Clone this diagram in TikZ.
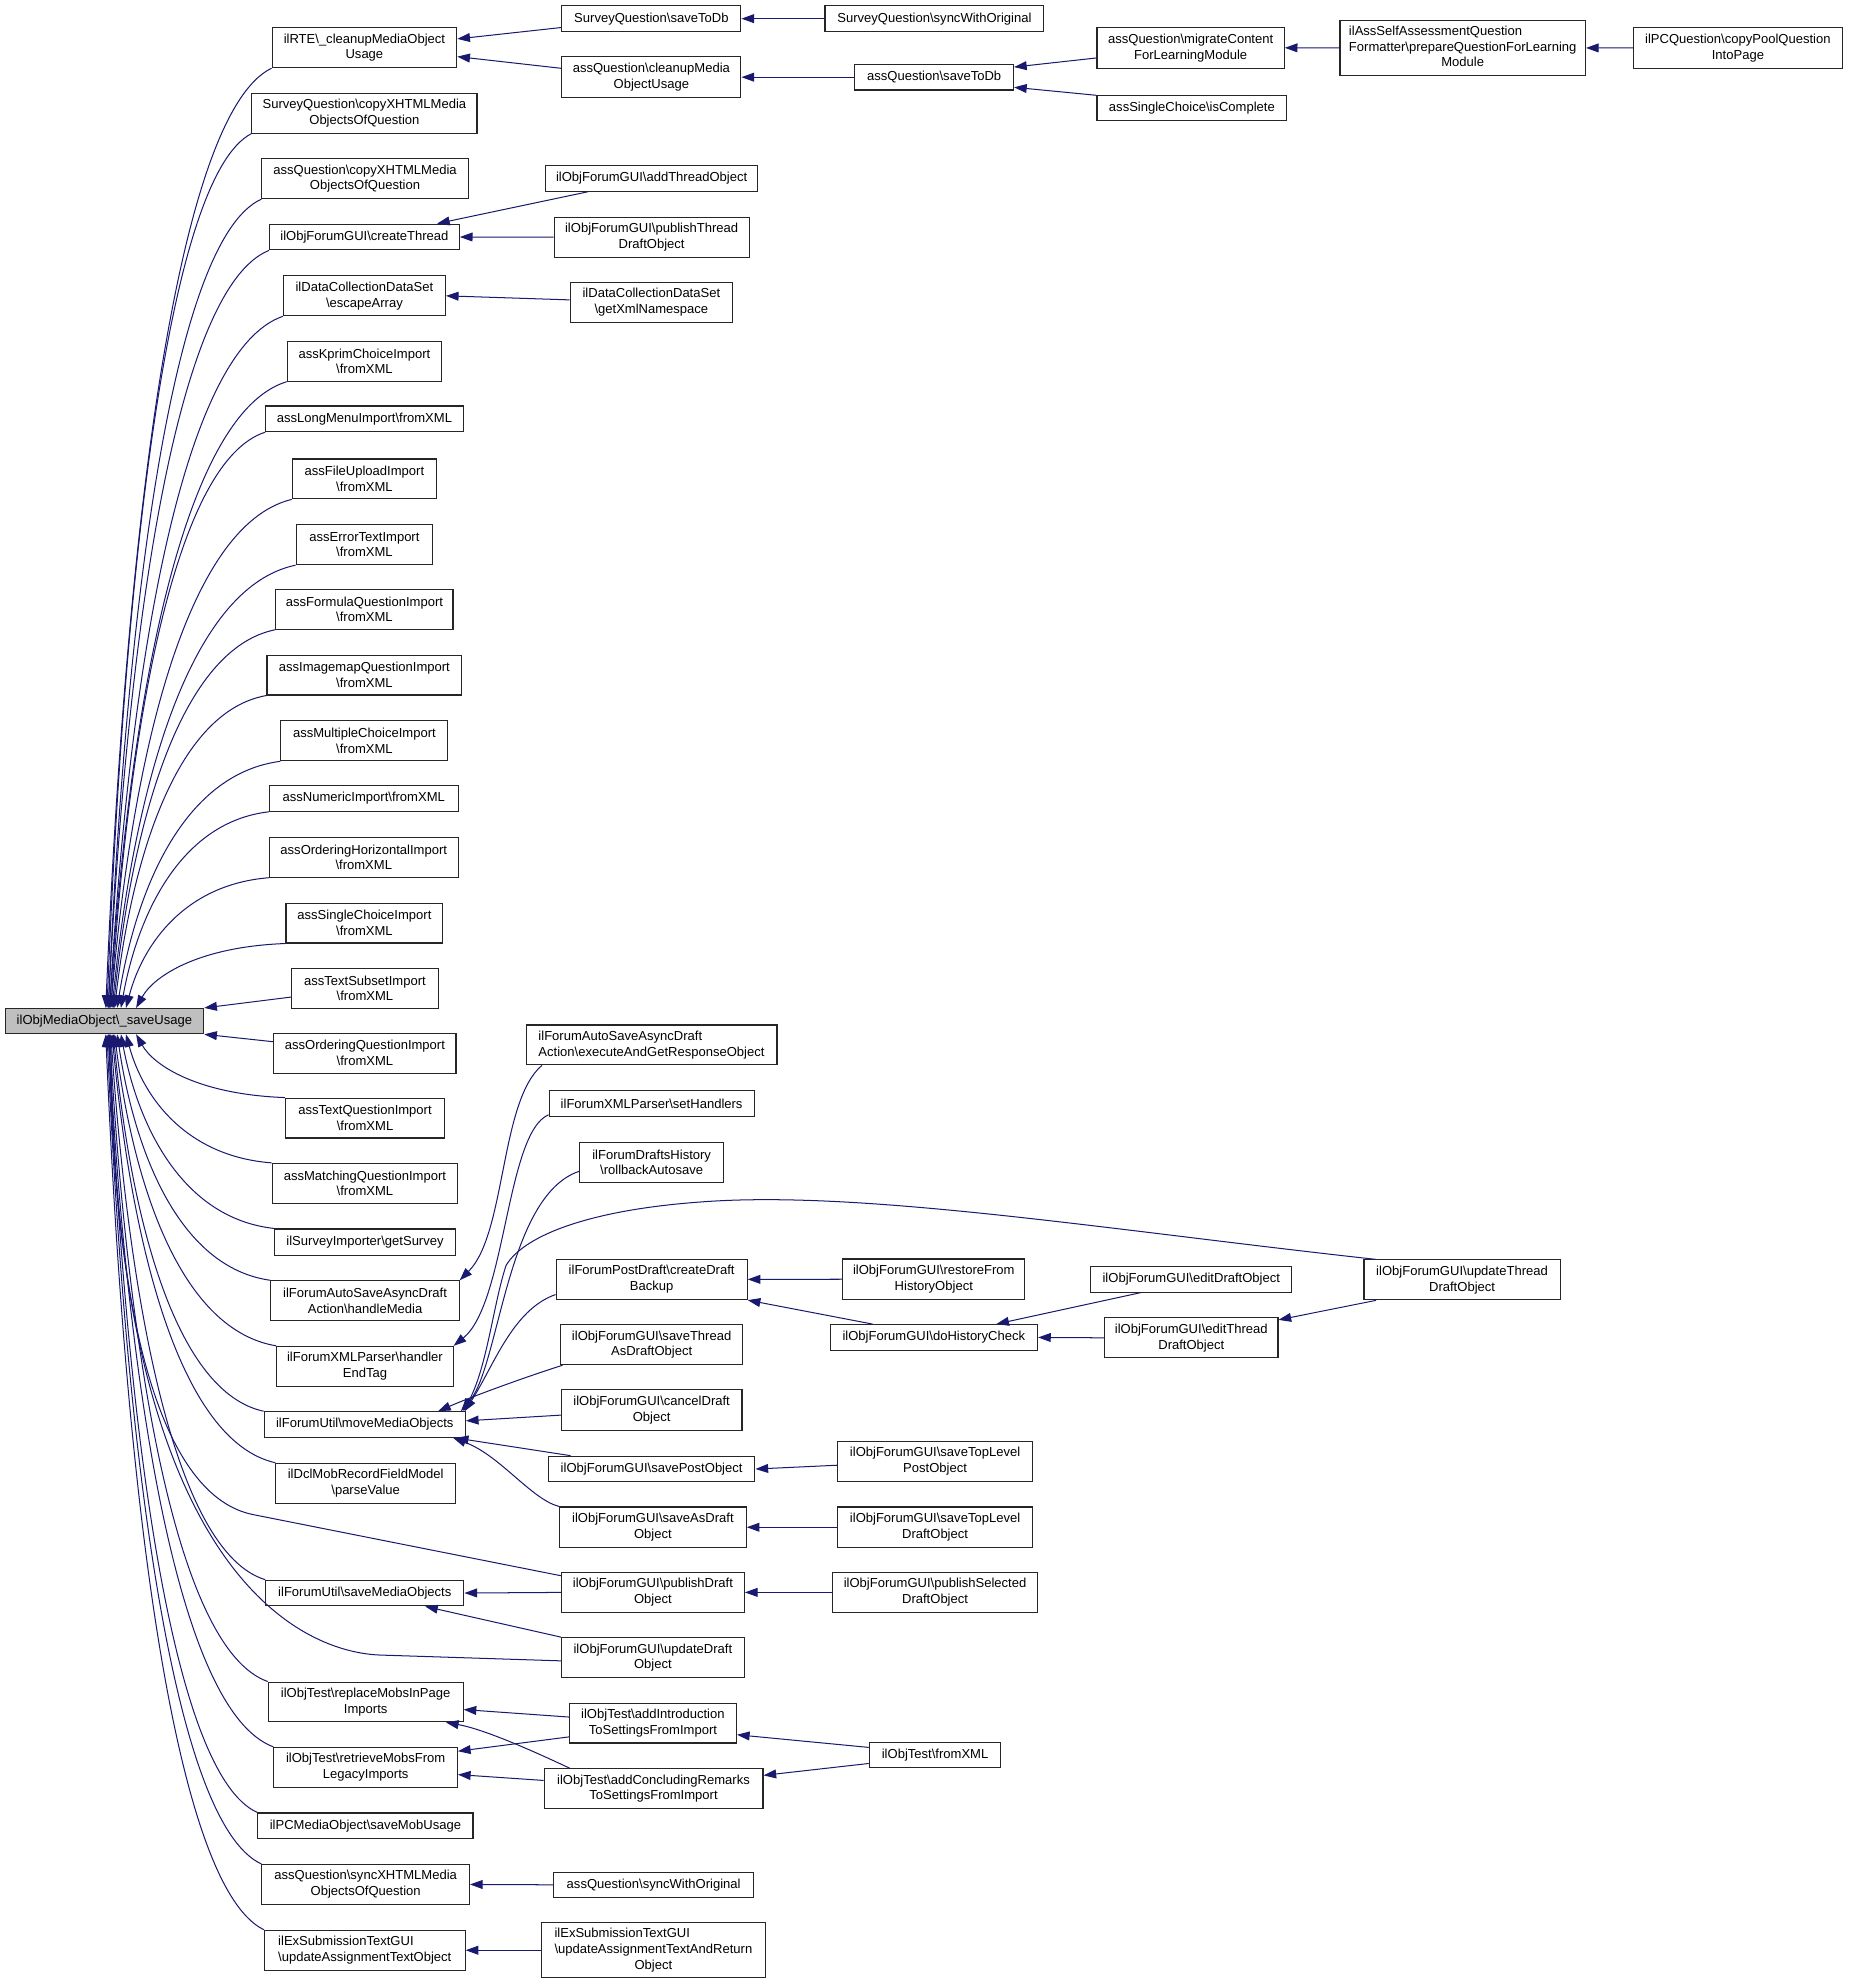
\documentclass[tikz,border=0pt]{standalone}
\usepackage{fontspec}
\setmainfont{Liberation Sans}
\usetikzlibrary{arrows.meta,calc}
\definecolor{edgecol}{RGB}{25,25,112}
\definecolor{rootfill}{RGB}{191,191,191}
\newcommand\bsl{\textbackslash}
\newcommand\rootedge[3]{\draw[dep] let \p1=(#1), \p2=([xshift=#3]#2) in (\p1) .. controls ({\x2+0.42*(\x1-\x2)},{\y1+0.05*(\y2-\y1)}) and ({\x2+0.12*(\x1-\x2)},{\y2+0.5*(\y1-\y2)}) .. (\p2);}
\begin{document}
\begin{tikzpicture}[x=1pt,y=-1pt,
  basebox/.style={draw=black!85, line width=0.85pt, fill=white, inner sep=0pt, font=\fontsize{10.3}{12.4}\selectfont},
  box/.style={basebox, align=center},
  lbox/.style={basebox, align=left},
  dep/.style={draw=edgecol, line width=0.8pt, -{Triangle[length=10pt,width=7pt]}}]
\fill[white] (0,0) rectangle (1461,1568);
\useasboundingbox (0,0) rectangle (1461,1568);

% root
\node[box, fill=rootfill, minimum width=157, minimum height=20] (root) at (82.5,807) {ilObjMediaObject\bsl\_saveUsage};

% column 1
\node[box, minimum width=146, minimum height=31.5] (n1) at (288,37.75) {ilRTE\bsl\_cleanupMediaObject\\Usage};
\node[box, minimum width=178, minimum height=31.5] (n2) at (288,89.5) {SurveyQuestion\bsl copyXHTMLMedia\\ObjectsOfQuestion};
\node[box, minimum width=163, minimum height=31.5] (n3) at (288.5,141.2) {assQuestion\bsl copyXHTMLMedia\\ObjectsOfQuestion};
\node[box, minimum width=150, minimum height=20.3] (n4) at (288,187.3) {ilObjForumGUI\bsl createThread};
\node[box, minimum width=128, minimum height=31.5] (n5) at (288,233.8) {ilDataCollectionDataSet\\\bsl escapeArray};
\node[box, minimum width=122, minimum height=31.5] (n6) at (288,285.5) {assKprimChoiceImport\\\bsl fromXML};
\node[box, minimum width=156, minimum height=20.3] (n7) at (288,331) {assLongMenuImport\bsl fromXML};
\node[box, minimum width=114, minimum height=31.5] (n8) at (288,378.5) {assFileUploadImport\\\bsl fromXML};
\node[box, minimum width=108, minimum height=31.5] (n9) at (288,430.5) {assErrorTextImport\\\bsl fromXML};
\node[box, minimum width=140, minimum height=31.5] (n10) at (288,481.5) {assFormulaQuestionImport\\\bsl fromXML};
\node[box, minimum width=154, minimum height=31.5] (n11) at (288,533.5) {assImagemapQuestionImport\\\bsl fromXML};
\node[box, minimum width=132, minimum height=31.5] (n12) at (288,585.5) {assMultipleChoiceImport\\\bsl fromXML};
\node[box, minimum width=149, minimum height=20.3] (n13) at (287.5,631) {assNumericImport\bsl fromXML};
\node[box, minimum width=149, minimum height=31.5] (n14) at (287.5,677.5) {assOrderingHorizontalImport\\\bsl fromXML};
\node[box, minimum width=124, minimum height=31.5] (n15) at (288,729.5) {assSingleChoiceImport\\\bsl fromXML};
\node[box, minimum width=116, minimum height=31.5] (n16) at (288.4,781) {assTextSubsetImport\\\bsl fromXML};
\node[box, minimum width=144, minimum height=31.5] (n17) at (288.4,832.3) {assOrderingQuestionImport\\\bsl fromXML};
\node[box, minimum width=126, minimum height=31.5] (n18) at (288.5,883.6) {assTextQuestionImport\\\bsl fromXML};
\node[box, minimum width=146.7, minimum height=31.5] (n19) at (288.4,935.2) {assMatchingQuestionImport\\\bsl fromXML};
\node[box, minimum width=142.7, minimum height=20.6] (n20) at (288.5,981.6) {ilSurveyImporter\bsl getSurvey};
\node[box, minimum width=148.8, minimum height=31.5] (n21) at (288.5,1028) {ilForumAutoSaveAsyncDraft\\Action\bsl handleMedia};
\node[box, minimum width=139.4, minimum height=31.5] (n22) at (288.4,1079.8) {ilForumXMLParser\bsl handler\\EndTag};
\node[box, minimum width=159, minimum height=20.3] (n23) at (288.3,1125.9) {ilForumUtil\bsl moveMediaObjects};
\node[box, minimum width=142, minimum height=31.5] (n24) at (289,1172.2) {ilDclMobRecordFieldModel\\\bsl parseValue};
\node[box, minimum width=156.6, minimum height=20.3] (n25) at (288.3,1259) {ilForumUtil\bsl saveMediaObjects};
\node[box, minimum width=154, minimum height=31.5] (n26) at (289,1345.1) {ilObjTest\bsl replaceMobsInPage\\Imports};
\node[box, minimum width=145, minimum height=31.5] (n27) at (289,1396.75) {ilObjTest\bsl retrieveMobsFrom\\LegacyImports};
\node[box, minimum width=170, minimum height=20.3] (n28) at (288.8,1443) {ilPCMediaObject\bsl saveMobUsage};
\node[box, minimum width=164, minimum height=31.5] (n29) at (289,1489.3) {assQuestion\bsl syncXHTMLMedia\\ObjectsOfQuestion};
\node[lbox, minimum width=158.6, minimum height=31.5] (n30) at (288.3,1541.3) {ilExSubmissionTextGUI\\\bsl updateAssignmentTextObject};

% column 2
\node[box, minimum width=141.5, minimum height=20.5] (m1) at (514.8,14.75) {SurveyQuestion\bsl saveToDb};
\node[box, minimum width=141.5, minimum height=32] (m2) at (514.8,61) {assQuestion\bsl cleanupMedia\\ObjectUsage};
\node[box, minimum width=168, minimum height=20.3] (m3) at (515,141) {ilObjForumGUI\bsl addThreadObject};
\node[box, minimum width=154, minimum height=31.5] (m4) at (515,187.4) {ilObjForumGUI\bsl publishThread\\DraftObject};
\node[box, minimum width=128.4, minimum height=32] (m5) at (514.8,239) {ilDataCollectionDataSet\\\bsl getXmlNamespace};
\node[lbox, minimum width=198.3, minimum height=31.5] (m6) at (514.9,825.8) {ilForumAutoSaveAsyncDraft\\Action\bsl executeAndGetResponseObject};
\node[box, minimum width=162, minimum height=20.5] (m7) at (515,872) {ilForumXMLParser\bsl setHandlers};
\node[box, minimum width=113.7, minimum height=31.6] (m8) at (515,918.7) {ilForumDraftsHistory\\\bsl rollbackAutosave};
\node[box, minimum width=151, minimum height=32] (m9) at (515,1011.1) {ilForumPostDraft\bsl createDraft\\Backup};
\node[box, minimum width=144, minimum height=31.5] (m10) at (515,1062.8) {ilObjForumGUI\bsl saveThread\\AsDraftObject};
\node[box, minimum width=142.8, minimum height=31.8] (m11) at (515,1114.4) {ilObjForumGUI\bsl cancelDraft\\Object};
\node[box, minimum width=163.3, minimum height=20.3] (m12) at (515,1161) {ilObjForumGUI\bsl savePostObject};
\node[box, minimum width=147.5, minimum height=32] (m13) at (516,1207) {ilObjForumGUI\bsl saveAsDraft\\Object};
\node[box, minimum width=144.6, minimum height=31.5] (m14) at (516,1258.5) {ilObjForumGUI\bsl publishDraft\\Object};
\node[box, minimum width=144.6, minimum height=31.5] (m15) at (516,1310) {ilObjForumGUI\bsl updateDraft\\Object};
\node[box, minimum width=132, minimum height=31] (m16) at (516,1362) {ilObjTest\bsl addIntroduction\\ToSettingsFromImport};
\node[box, minimum width=173, minimum height=31.2] (m17) at (516.5,1413.6) {ilObjTest\bsl addConcludingRemarks\\ToSettingsFromImport};
\node[box, minimum width=157.8, minimum height=20] (m18) at (516.6,1489.6) {assQuestion\bsl syncWithOriginal};
\node[basebox, minimum width=176.8, minimum height=43.4] (m19) at (516.4,1541.3) {\begin{tabular}{@{}c@{}}\multicolumn{1}{@{}l@{}}{ilExSubmissionTextGUI}\\\bsl updateAssignmentTextAndReturn\\Object\end{tabular}};

% column 3
\node[box, minimum width=173, minimum height=20.5] (k1) at (738.5,14.75) {SurveyQuestion\bsl syncWithOriginal};
\node[box, minimum width=125.4, minimum height=20.3] (k2) at (738.3,61) {assQuestion\bsl saveToDb};
\node[box, minimum width=144, minimum height=32] (k3) at (738,1011) {ilObjForumGUI\bsl restoreFrom\\HistoryObject};
\node[box, minimum width=164, minimum height=20.3] (k4) at (738,1057) {ilObjForumGUI\bsl doHistoryCheck};
\node[box, minimum width=154.5, minimum height=32] (k5) at (739,1155) {ilObjForumGUI\bsl saveTopLevel\\PostObject};
\node[box, minimum width=154.5, minimum height=32] (k6) at (739,1207) {ilObjForumGUI\bsl saveTopLevel\\DraftObject};
\node[box, minimum width=162.5, minimum height=31.5] (k7) at (739,1258.5) {ilObjForumGUI\bsl publishSelected\\DraftObject};
\node[box, minimum width=104, minimum height=20.3] (k8) at (739,1387) {ilObjTest\bsl fromXML};

% column 4
\node[box, minimum width=148, minimum height=32.4] (j1) at (941,37.8) {assQuestion\bsl migrateContent\\ForLearningModule};
\node[box, minimum width=150, minimum height=19.5] (j2) at (942,85.5) {assSingleChoice\bsl isComplete};
\node[box, minimum width=159, minimum height=20.3] (j3) at (941.5,1011) {ilObjForumGUI\bsl editDraftObject};
\node[box, minimum width=137, minimum height=31.5] (j4) at (941.5,1057.3) {ilObjForumGUI\bsl editThread\\DraftObject};

% column 5
\node[basebox, minimum width=194, minimum height=43.2] (i1) at (1156,37.9) {\begin{tabular}{@{}c@{}}\multicolumn{1}{@{}l@{}}{ilAssSelfAssessmentQuestion}\\Formatter\bsl prepareQuestionForLearning\\Module\end{tabular}};
\node[box, minimum width=155, minimum height=31.5] (i2) at (1155.5,1011.5) {ilObjForumGUI\bsl updateThread\\DraftObject};

% column 6
\node[box, minimum width=165, minimum height=32.4] (h1) at (1373.5,37.8) {ilPCQuestion\bsl copyPoolQuestion\\IntoPage};

% ---- edges into root (upper)
\rootedge{n1.south west}{root.north west}{80}
\rootedge{n2.south west}{root.north west}{81}
\rootedge{n3.south west}{root.north west}{82}
\rootedge{n4.south west}{root.north west}{82}
\rootedge{n5.south west}{root.north west}{83}
\rootedge{n6.south west}{root.north west}{83}
\rootedge{n7.south west}{root.north west}{84}
\rootedge{n8.south west}{root.north west}{84}
\rootedge{n9.south west}{root.north west}{85}
\rootedge{n10.south west}{root.north west}{86}
\rootedge{n11.south west}{root.north west}{87}
\rootedge{n12.south west}{root.north west}{89}
\rootedge{n13.south west}{root.north west}{92}
\rootedge{n14.south west}{root.north west}{96}
\rootedge{n15.south west}{root.north west}{104}
\draw[dep] ([yshift=-7]n16.west) -- (root.north east);
\draw[dep] ([yshift=9]n17.west) -- (root.south east);
% ---- edges into root (lower)
\rootedge{n18.north west}{root.south west}{104}
\rootedge{n19.north west}{root.south west}{96}
\rootedge{n20.north west}{root.south west}{92}
\rootedge{n21.north west}{root.south west}{89}
\rootedge{n22.north west}{root.south west}{87}
\rootedge{n23.north west}{root.south west}{86}
\rootedge{n24.north west}{root.south west}{85}
\rootedge{n25.north west}{root.south west}{84}
\rootedge{n26.north west}{root.south west}{83}
\rootedge{n27.north west}{root.south west}{82}
\rootedge{n28.north west}{root.south west}{82}
\rootedge{n29.north west}{root.south west}{81}
\rootedge{n30.north west}{root.south west}{80}
\draw[dep] ([yshift=-3]m14.north west) -- (200,1197) .. controls (130,1183) and (90,1050) .. ([xshift=84]root.south west);
\draw[dep] ([yshift=-2.6]m15.west) -- (300,1308) .. controls (230,1305) and (92,1230) .. ([xshift=83]root.south west);

% ---- top cluster
\draw[dep] ([yshift=-7]m1.west) -- ([yshift=7]n1.east);
\draw[dep] ([yshift=7]m2.west) -- ([yshift=-7]n1.east);
\draw[dep] (k1.west) -- (m1.east);
\draw[dep] (k2.west) -- (m2.east);
\draw[dep] ([yshift=-8]j1.west) -- ([yshift=8]k2.east);
\draw[dep] (j2.north west) -- ([yshift=-8]k2.east);
\draw[dep] (i1.west) -- (j1.east);
\draw[dep] (h1.west) -- (i1.east);
\draw[dep] ([xshift=34]m3.south west) -- ([xshift=-18]n4.north east);
\draw[dep] (m4.west) -- (n4.east);
\draw[dep] ([yshift=2]m5.west) -- (n5.east);

% ---- forum cluster
\draw[dep] ([xshift=13]m6.south west) .. controls (395,870) and (400,975) .. (n21.north east);
\draw[dep] ([yshift=-9]m7.west) .. controls (400,895) and (400,1030) .. (n22.north east);
\draw[dep] ([yshift=-7]m8.west) .. controls (400,945) and (395,1080) .. ([xshift=-4]n23.north east);
\draw[dep] ([xshift=10]i2.north west) .. controls (875,972) and (680,940) .. (553,950) .. controls (470,956) and (415,975) .. (400,1000) .. controls (390,1030) and (385,1080) .. ([xshift=-2]n23.north east);
\draw[dep] ([yshift=-12]m9.west) .. controls (405,1035) and (390,1080) .. ([xshift=-1]n23.north east);
\draw[dep] ([xshift=2]m10.south west) .. controls (410,1090) and (370,1105) .. ([xshift=-22]n23.north east);
\draw[dep] ([yshift=-4]m11.west) -- ([yshift=3]n23.east);
\draw[dep] ([xshift=18]m12.north west) -- ([xshift=-8]n23.south east);
\draw[dep] (m13.north west) .. controls (420,1185) and (395,1150) .. ([xshift=-10]n23.south east);
\draw[dep] (k3.west) -- (m9.east);
\draw[dep] ([xshift=34]k4.north west) -- (m9.south east);
\draw[dep] ([xshift=40]j3.south west) -- ([xshift=-33]k4.north east);
\draw[dep] (j4.west) -- (k4.east);
\draw[dep] ([xshift=10]i2.south west) -- ([yshift=-2]j4.north east);
\draw[dep] ([yshift=-3]k5.west) -- (m12.east);
\draw[dep] (k6.west) -- (m13.east);
\draw[dep] (k7.west) -- (m14.east);
\draw[dep] (m14.west) -- (n25.east);
\draw[dep] (m15.north west) -- ([xshift=-31]n25.south east);

% ---- test cluster
\draw[dep] ([yshift=6]k8.west) -- ([yshift=-9]m16.east);
\draw[dep] ([yshift=-6.7]k8.west) -- ([yshift=10.5]m17.east);
\draw[dep] ([yshift=5]m16.west) -- ([yshift=-6]n26.east);
\draw[dep] ([xshift=21]m17.north west) .. controls (430,1388) and (385,1367) .. ([xshift=-14]n26.south east);
\draw[dep] ([yshift=-10.7]m16.west) -- ([yshift=12.75]n27.east);
\draw[dep] ([yshift=6.5]m17.west) -- ([yshift=-5.75]n27.east);
\draw[dep] (m18.west) -- (n29.east);
\draw[dep] (m19.west) -- (n30.east);
\end{tikzpicture}
\end{document}
